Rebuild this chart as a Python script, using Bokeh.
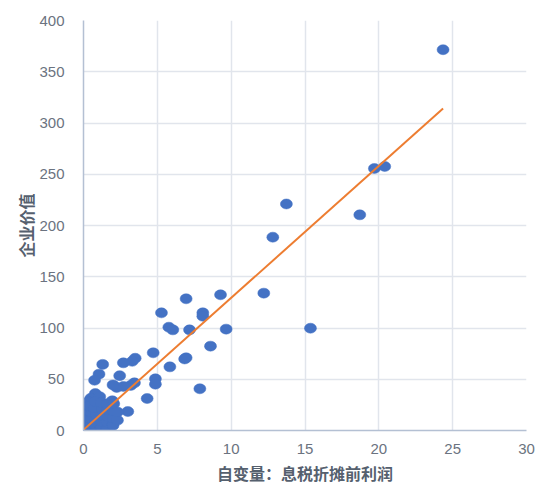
from bokeh.plotting import figure
from bokeh.models import ColumnDataSource, Range1d
from bokeh.embed import file_html
from bokeh.resources import INLINE

# Data: EBITDA (x) vs enterprise value (y)
ebitda = [24.35, 20.4, 19.7, 13.74, 12.82, 18.71, 12.21, 15.37, 9.28, 9.66,
          8.08, 8.08, 6.95, 5.28, 5.78, 6.05, 7.18, 8.6, 6.95, 6.85,
          5.85, 7.88, 4.72, 4.87, 4.87, 4.31, 3.0, 3.5, 3.3, 2.7,
          2.45, 3.45, 3.2, 2.7, 2.25, 2.0, 1.3, 1.05, 0.75, 0.8,
          0.5, 1.95, 1.25, 1.1, 0.3,
          0.0, 0.0, 0.0, 0.05, 0.1,
          0.4, 0.4, 0.4, 0.45, 0.35,
          0.8, 0.8, 0.8, 0.85, 0.75, 0.8,
          1.2, 1.2, 1.2, 1.25, 1.2,
          1.6, 1.6, 1.6, 1.65, 1.6,
          2.0, 2.0, 2.0, 2.05, 2.3, 2.3]
value = [371.5, 257.6, 255.6, 221.0, 188.6, 210.4, 134.0, 99.8, 132.4, 98.9,
         114.8, 111.5, 128.5, 114.8, 100.8, 98.2, 98.2, 82.3, 70.9, 69.8,
         62.1, 40.7, 75.8, 50.4, 45.2, 31.2, 18.5, 70.5, 67.5, 66.0,
         53.5, 46.5, 44.0, 43.0, 42.0, 44.5, 64.5, 55.0, 49.0, 36.0,
         31.5, 29.0, 0.0, 33.0, 28.0,
         0.0, 5.0, 10.0, 15.0, 20.0,
         0.0, 6.0, 12.0, 18.0, 24.0,
         0.0, 5.0, 10.0, 16.0, 22.0, 28.0,
         3.0, 9.0, 15.0, 21.0, 27.0,
         2.0, 8.0, 14.0, 20.0, 26.0,
         5.0, 12.0, 19.0, 26.0, 10.0, 18.0]

# Linear trend line coefficients (slope, intercept)
trend_slope = 12.87
trend_intercept = 0.7

x_ticks = [0, 5, 10, 15, 20, 25, 30]
y_ticks = [0, 50, 100, 150, 200, 250, 300, 350, 400]

x_label = "自变量：息税折摊前利润"
y_label = "企业价值"

tx = [min(ebitda), max(ebitda)]
ty = [trend_intercept + trend_slope * v for v in tx]

p = figure(width=538, height=487, output_backend="svg", toolbar_location=None,
           x_range=Range1d(0, 30), y_range=Range1d(0, 400),
           min_border_left=83, min_border_right=12, min_border_top=20, min_border_bottom=57)
p.outline_line_color = None
p.background_fill_color = "white"
p.border_fill_color = "white"

src = ColumnDataSource(dict(x=ebitda, y=value))
p.ellipse(x="x", y="y", width=12, height=10, width_units="screen", height_units="screen",
          source=src, fill_color="#4472C4", line_color="#4472C4", line_width=0.5)

p.line(tx, ty, line_color="#ED7D31", line_width=2)

p.xaxis.ticker = x_ticks
p.yaxis.ticker = y_ticks
for ax in (p.xaxis, p.yaxis):
    ax.major_tick_line_color = None
    ax.minor_tick_line_color = None
    ax.axis_line_color = "#B4C0D3"
    ax.axis_line_width = 1.5
    ax.major_label_text_color = "#6B7380"
    ax.major_label_text_font = "Liberation Sans"
    ax.major_label_text_font_size = "15px"
    ax.axis_label_text_font = "Noto Sans CJK SC"
    ax.axis_label_text_font_style = "bold"
    ax.axis_label_text_font_size = "16px"
    ax.axis_label_text_color = "#55606E"

p.xaxis.axis_label = x_label
p.yaxis.axis_label = y_label
p.xaxis.major_label_standoff = 7
p.yaxis.major_label_standoff = 13
p.xaxis.axis_label_standoff = 4
p.yaxis.axis_label_standoff = -2

p.xgrid.ticker = x_ticks
p.ygrid.ticker = y_ticks
p.xgrid.grid_line_color = "#E1E5EC"
p.ygrid.grid_line_color = "#E1E5EC"
p.xgrid.grid_line_width = 1.5
p.ygrid.grid_line_width = 1.5

open("out.html", "w").write(file_html(p, INLINE))
